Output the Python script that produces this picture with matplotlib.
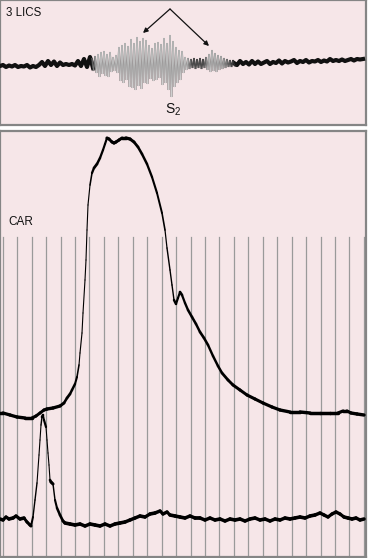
import numpy as np
import matplotlib
matplotlib.use('Agg')
import matplotlib.pyplot as plt
from matplotlib.collections import LineCollection

plt.rcParams['font.family'] = ['Liberation Sans', 'DejaVu Sans']
plt.rcParams['mathtext.fontset'] = 'custom'
plt.rcParams['mathtext.rm'] = 'Liberation Sans'

# ---------------- data: phonocardiogram (3 LICS) ----------------
# time units (arbitrary), amplitude units (arbitrary, 0 = baseline)
pcg_left_t = list(range(0, 94, 3))
pcg_left_amp = [-3, -2, -4, -2.5, -3.5, -2, -4, -3, -3.5, -2, -4.5, -3, -4, -2, 1, -3,
                2, -2, 1.5, -3, 0.5, -2, -1, -2, -1, -2.5, 2, -3, 4, -4, 6, -5]

pcg_peak_t = [92, 95, 98, 101, 104, 107, 110, 113, 116, 119,
              122, 125, 128, 131, 134, 137, 140, 143, 146, 149,
              152, 155, 158, 161, 164, 167, 170, 173, 176, 179,
              182, 185, 188, 191, 194, 197, 200, 203, 206, 209,
              212, 215, 218, 221, 224, 227, 230, 233]
pcg_peak_amp = [5, 7, 9, 11, 12, 9, 11, 6, 8, 16,
                18, 20, 17, 24, 20, 26, 22, 25, 23, 18,
                15, 20, 21, 19, 25, 20, 28, 22, 16, 13,
                12, 6, 5, 4, 5, 4, 5, 4, 6, 9,
                13, 10, 8, 7, 5, 4, 3, 3]
pcg_trough_t = [93.5, 96.5, 99.5, 102.5, 105.5, 108.5, 111.5, 114.5, 117.5, 120.5,
                123.5, 126.5, 129.5, 132.5, 135.5, 138.5, 141.5, 144.5, 147.5, 150.5,
                153.5, 156.5, 159.5, 162.5, 165.5, 168.5, 171.5, 174.5, 177.5, 180.5,
                183.5, 186.5, 189.5, 192.5, 195.5, 198.5, 201.5, 204.5, 207.5, 210.5,
                213.5, 216.5, 219.5, 222.5, 225.5, 228.5, 231.5, 234.5]
pcg_trough_amp = [-8, -10, -14, -11, -13, -14, -9, -8, -10, -18,
                  -20, -17, -24, -25, -27, -23, -26, -20, -21, -16,
                  -18, -17, -15, -22, -20, -27, -34, -24, -20, -17,
                  -10, -7, -6, -5, -6, -5, -6, -5, -7, -9,
                  -8, -9, -7, -6, -5, -4, -4, -3]

pcg_right_t = list(range(234, 364, 3))
pcg_right_amp = [0, -2, 2, -1, 1, -1.5, 2, -1, 1.5, -1, 0.5, 2, -1, 1, 0, 2.5, -0.5, 2,
                 0.5, 1.5, 3, 0, 2, 1, 3, 0.5, 2, 1.5, 3, 1, 2.5, 1.5, 4, 2, 3, 2,
                 3.5, 2, 3, 4, 2.5, 4, 3.5, 4]

# ---------------- data: carotid pulse (CAR) ----------------
car_t = [0, 3, 10, 17, 25, 32, 36, 40, 44, 47, 53, 60, 64, 67, 70, 72, 75, 77, 79, 80,
         82, 83, 85, 86, 87, 88, 90, 92, 94, 97, 100, 103, 105, 107, 109, 112, 114, 116,
         119, 122, 126, 130, 134, 138, 142, 147, 152, 157, 162, 165, 167, 170, 172, 174,
         176, 178, 180, 182, 185, 188, 192, 196, 200, 204, 208, 213, 218, 222, 228, 233,
         240, 247, 255, 263, 272, 280, 290, 300, 310, 320, 330, 338, 343, 347, 351, 357, 364]
car_amp = [2, 2, 0, -2, -3, -3, -1, 2, 5, 6, 7, 9, 12, 17, 21, 25, 31, 38, 50, 62,
           82, 102, 135, 155, 185, 210, 230, 242, 247, 251, 257, 265, 271, 277, 276, 273, 272, 273,
           275, 277, 277, 276, 273, 268, 261, 251, 238, 222, 202, 185, 167, 145, 130, 115,
           111, 117, 123, 120, 112, 105, 98, 91, 83, 77, 70, 59, 49, 42, 35, 30,
           25, 20, 16, 12, 8, 5, 3, 3, 2, 2, 2, 2, 4, 4, 2, 1, 0]

# ---------------- data: lower trace ----------------
low_t = [0, 3, 6, 9, 13, 16, 20, 24, 27, 30, 31, 33, 35, 37, 39, 40, 41, 42, 43, 44, 46,
         47, 48, 49, 50, 51, 53, 55, 57, 60, 63, 65, 70, 75, 80, 85, 90, 95, 100, 105,
         110, 115, 120, 125, 130, 135, 140, 145, 150, 155, 160, 163, 167, 170, 175, 180,
         185, 190, 195, 200, 205, 210, 215, 220, 225, 230, 235, 240, 245, 250, 255, 260,
         265, 270, 275, 280, 285, 290, 295, 300, 305, 310, 315, 320, 324, 328, 332, 336,
         340, 344, 348, 352, 356, 360, 364]
low_amp = [0, -1, 2, 0, 1, 3, 0, 1, -3, -6, -7, 2, 19, 36, 64, 79, 94, 102, 104, 99, 92,
           79, 66, 54, 39, 37, 35, 19, 11, 4, -2, -4, -5, -6, -5, -7, -5, -6, -7, -5,
           -7, -5, -4, -3, -1, 1, 3, 2, 5, 6, 8, 5, 7, 4, 3, 2,
           1, 3, 1, 1, -1, 1, -1, 0, -2, 0, -1, 0, -2, 0, 1, -1,
           0, -2, 0, -1, 1, 0, 1, 2, 1, 3, 4, 6, 4, 2, 5, 7,
           5, 2, 1, 0, 1, -1, 0]

# time-marker interval for the vertical timing lines
marker_start, marker_step, marker_count = 2.7, 14.45, 26

# ---------------- figure ----------------
W, H = 368, 558
PINK = '#f6e6e8'
EDGE = '#858585'
fig = plt.figure(figsize=(W / 100, H / 100), dpi=100, facecolor='white')
ax_top = fig.add_axes([0, 1 - 125 / H, 366 / W, 125 / H])
ax_bot = fig.add_axes([0, 1 - 557 / H, 366 / W, (557 - 130.5) / H])

for ax in (ax_top, ax_bot):
    ax.set_facecolor(PINK)
    ax.set_xticks([])
    ax.set_yticks([])
    for sp in ax.spines.values():
        sp.set_color(EDGE)
        sp.set_linewidth(1.6)
    ax.set_xlim(0, 366)

ax_top.set_ylim(-62, 63)
ax_bot.set_ylim(-142, 284.5)


def varwidth(ax, t, a, wmax, wmin, k, color='black', z=3, offset=0.0):
    t = np.asarray(t, float)
    a = np.asarray(a, float) + offset
    pts = np.column_stack([t, a]).reshape(-1, 1, 2)
    segs = np.concatenate([pts[:-1], pts[1:]], axis=1)
    slope = np.abs(np.diff(a) / np.diff(t))
    lw = np.clip(wmax / (1 + slope / k), wmin, wmax)
    lc = LineCollection(segs, linewidths=lw, colors=color, capstyle='round',
                        joinstyle='round', zorder=z)
    ax.add_collection(lc)


# --- top panel ---
ax_top.plot(pcg_left_t, pcg_left_amp, color='#111111', lw=3.0, zorder=3,
            solid_joinstyle='round')
ax_top.plot(pcg_right_t, pcg_right_amp, color='#111111', lw=3.0, zorder=3,
            solid_joinstyle='round')

snd_t = np.empty(len(pcg_peak_t) * 2)
snd_a = np.empty(len(pcg_peak_t) * 2)
snd_t[0::2], snd_t[1::2] = pcg_peak_t, pcg_trough_t
snd_a[0::2], snd_a[1::2] = pcg_peak_amp, pcg_trough_amp
snd_t = np.concatenate([[pcg_left_t[-1]], snd_t, [pcg_right_t[1]]])
snd_a = np.concatenate([[pcg_left_amp[-1]], snd_a, [pcg_right_amp[1]]])
pts = np.column_stack([snd_t, snd_a]).reshape(-1, 1, 2)
segs = np.concatenate([pts[:-1], pts[1:]], axis=1)
mid = 0.5 * (snd_t[:-1] + snd_t[1:])
lvl = np.interp(mid, [90, 97, 187, 192, 204, 209, 222, 236],
                [0.1, 0.80, 0.80, 0.33, 0.33, 0.78, 0.72, 0.1])
under = [(l * 0.6, l * 0.6, l * 0.6) for l in lvl]
over = [(min(1, l * 1.06),) * 3 for l in lvl]
ax_top.add_collection(LineCollection(segs, linewidths=1.15, colors=under, zorder=4))
ax_top.add_collection(LineCollection(segs, linewidths=0.5, colors=over, zorder=5))

ax_top.text(6, 50, '3 LICS', fontsize=8.3, va='center', ha='left', color='#111111')
ax_top.text(173, -47, r'$\mathregular{S_2}$', fontsize=10, va='center', ha='center',
            color='#111111')
for tip in [(143, 30), (209, 17)]:
    ax_top.annotate('', xy=tip, xytext=(170, 54),
                    arrowprops=dict(arrowstyle='-|>', color='#111111', lw=0.9,
                                    mutation_scale=7, shrinkA=0, shrinkB=0))

# --- bottom panel ---
frac = (557 - 237) / (557 - 130.5)
for i in range(marker_count):
    ax_bot.axvline(marker_start + i * marker_step, ymin=0, ymax=frac,
                   color='#9a9a9a', lw=0.9, zorder=1)

varwidth(ax_bot, car_t, car_amp, 2.5, 0.8, 5)
varwidth(ax_bot, low_t, low_amp, 2.7, 0.8, 5, offset=-104)

ax_bot.text(8, 193, 'CAR', fontsize=8.5, va='center', ha='left', color='#111111')

fig.savefig('out.png', dpi=100, facecolor='white')
